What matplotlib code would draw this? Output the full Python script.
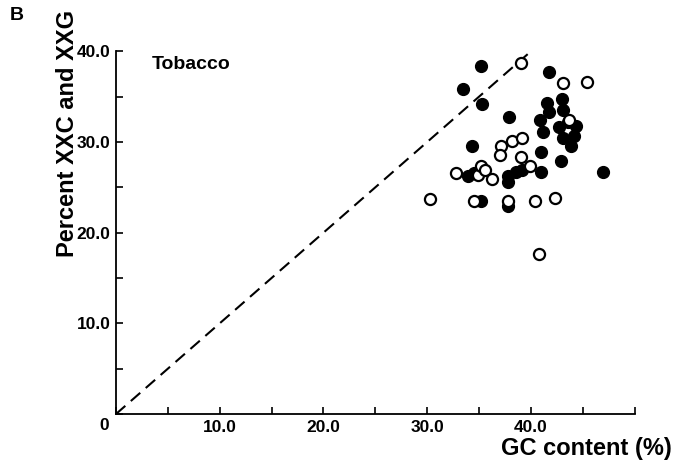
import matplotlib.pyplot as plt
from matplotlib.ticker import MultipleLocator

plt.rcParams['font.family'] = ['Liberation Sans', 'DejaVu Sans']

# filled circles (GC content %, percent XXC and XXG)
filled_x = [35.2, 33.4, 35.3, 37.9, 41.7, 34.3, 41.5, 43.0, 43.1, 40.9,
            41.7, 41.2, 42.7, 43.6, 44.3, 43.1, 43.9, 44.1, 41.0, 42.9,
            46.9, 33.9, 34.5, 37.8, 37.8, 38.6, 39.1, 41.0, 35.2, 37.8]
filled_y = [38.4, 35.8, 34.2, 32.8, 37.7, 29.5, 34.3, 34.7, 33.5, 32.4,
            33.3, 31.1, 31.7, 32.2, 31.8, 30.4, 29.5, 30.6, 28.9, 27.9,
            26.7, 26.3, 26.6, 26.2, 25.6, 26.7, 26.9, 26.7, 23.5, 22.9]

# open circles
open_x = [39.0, 43.1, 45.4, 43.7, 38.2, 39.1, 37.1, 37.0, 39.0, 32.8,
          34.9, 35.2, 35.6, 36.2, 39.9, 34.5, 37.8, 40.4, 42.3, 40.8, 30.3]
open_y = [38.7, 36.5, 36.6, 32.4, 30.1, 30.4, 29.5, 28.6, 28.3, 26.6,
          26.4, 27.3, 26.9, 25.9, 27.3, 23.5, 23.5, 23.5, 23.8, 17.6, 23.7]

diag = [0, 40]
xticks = [10, 20, 30, 40]
xtick_labels = ["10.0", "20.0", "30.0", "40.0"]
yticks = [10, 20, 30, 40]
ytick_labels = ["10.0", "20.0", "30.0", "40.0"]

fig = plt.figure(figsize=(6.9, 4.7), dpi=100)
ax = fig.add_axes([0.168, 0.119, 0.752, 0.772])

ax.plot(diag, diag, color="black", lw=1.5, ls=(0, (6, 3.5)))
ax.plot(filled_x, filled_y, "o", color="black", ms=8.5, zorder=3)
ax.plot(open_x, open_y, "o", mfc="white", mec="black", mew=1.6, ms=8, zorder=4)

ax.set_xlim(0, 50)
ax.set_ylim(0, 40)
ax.spines["top"].set_visible(False)
ax.spines["right"].set_visible(False)
ax.spines["left"].set_linewidth(1.3)
ax.spines["bottom"].set_linewidth(1.3)

ax.set_xticks(xticks)
ax.set_xticklabels(xtick_labels)
ax.set_yticks(yticks)
ax.set_yticklabels(ytick_labels)
ax.xaxis.set_minor_locator(MultipleLocator(5))
ax.yaxis.set_minor_locator(MultipleLocator(5))
ax.tick_params(which="both", direction="in", length=5, width=1.2)
ax.tick_params(labelsize=12.5, pad=4)
for lab in ax.get_xticklabels() + ax.get_yticklabels():
    lab.set_fontweight("bold")

ax.text(-0.7, -0.4, "0", ha="right", va="top", fontsize=12.5, fontweight="bold")
ax.text(3.5, 38.5, "Tobacco", fontsize=14, fontweight="bold", va="center")

fig.text(68 / 690, 1 - 133 / 470, "Percent XXC and XXG", rotation=90,
         ha="center", va="center", fontsize=17, fontweight="bold")
fig.text(672 / 690, 1 - 448 / 470, "GC content (%)", ha="right", va="center",
         fontsize=17, fontweight="bold")
fig.text(10 / 690, 1 - 15 / 470, "B", ha="left", va="center",
         fontsize=14, fontweight="bold")

fig.savefig("out.png", dpi=100)
